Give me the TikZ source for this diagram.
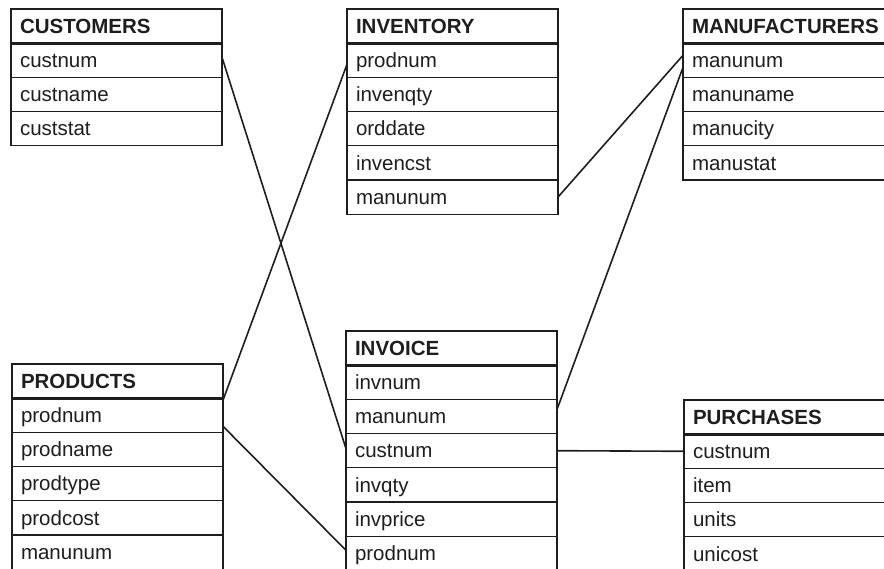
\documentclass[tikz,border=0pt]{standalone}
\usepackage{fontspec}
\setmainfont{Liberation Sans}
\usetikzlibrary{positioning,calc}
\definecolor{ink}{HTML}{1E1E1E}

\begin{document}
\begin{tikzpicture}[x=1pt,y=-1pt,
    field/.style={draw=ink,line width=1.3pt,outer sep=0pt,minimum width=211pt,minimum height=34.2pt,
      text width=193pt,inner xsep=9pt,inner ysep=0pt,align=left,
      text height=14.5pt,text depth=0pt,font=\fontsize{20.5}{24}\selectfont,text=ink},
    header/.style={field,anchor=north west,font=\fontsize{20.5}{24}\selectfont\bfseries},
    headline/.style={draw=ink,line width=3pt},
    link/.style={draw=ink,line width=1.6pt}]
    \clip (0,0) rectangle (884,569);
    %CUSTOMERS
    \node[header] (cust0) at (11,9) {CUSTOMERS};
    \node[field,below=0pt of cust0] (cust1) {custnum};
    \node[field,below=0pt of cust1] (cust2) {custname};
    \node[field,below=0pt of cust2] (cust3) {custstat};
    \draw[headline] (cust0.south west) -- (cust0.south east);
    %INVENTORY
    \node[header] (invt0) at (347,9) {INVENTORY};
    \node[field,below=0pt of invt0] (invt1) {prodnum};
    \node[field,below=0pt of invt1] (invt2) {invenqty};
    \node[field,below=0pt of invt2] (invt3) {orddate};
    \node[field,below=0pt of invt3] (invt4) {invencst};
    \node[field,below=0pt of invt4] (invt5) {manunum};
    \draw[headline] (invt0.south west) -- (invt0.south east);
    %MANUFACTURERS
    \node[header] (manu0) at (683,9) {MANUFACTURERS};
    \node[field,below=0pt of manu0] (manu1) {manunum};
    \node[field,below=0pt of manu1] (manu2) {manuname};
    \node[field,below=0pt of manu2] (manu3) {manucity};
    \node[field,below=0pt of manu3] (manu4) {manustat};
    \draw[headline] (manu0.south west) -- (manu0.south east);
    %PRODUCTS
    \node[header] (prod0) at (12,364) {PRODUCTS};
    \node[field,below=0pt of prod0] (prod1) {prodnum};
    \node[field,below=0pt of prod1] (prod2) {prodname};
    \node[field,below=0pt of prod2] (prod3) {prodtype};
    \node[field,below=0pt of prod3] (prod4) {prodcost};
    \node[field,below=0pt of prod4] (prod5) {manunum};
    \draw[headline] (prod0.south west) -- (prod0.south east);
    %INVOICE
    \node[header] (invc0) at (346,331) {INVOICE};
    \node[field,below=0pt of invc0] (invc1) {invnum};
    \node[field,below=0pt of invc1] (invc2) {manunum};
    \node[field,below=0pt of invc2] (invc3) {custnum};
    \node[field,below=0pt of invc3] (invc4) {invqty};
    \node[field,below=0pt of invc4] (invc5) {invprice};
    \node[field,below=0pt of invc5] (invc6) {prodnum};
    \draw[headline] (invc0.south west) -- (invc0.south east);
    %PURCHASES
    \node[header] (purc0) at (684,400) {PURCHASES};
    \node[field,below=0pt of purc0] (purc1) {custnum};
    \node[field,below=0pt of purc1] (purc2) {item};
    \node[field,below=0pt of purc2] (purc3) {units};
    \node[field,below=0pt of purc3] (purc4) {unicost};
    \draw[headline] (purc0.south west) -- (purc0.south east);
    %links
    \draw[link] ($(cust1.east)+(0,-3)$) -- ($(invc3.west)+(0,-2)$);
    \draw[link] ($(prod1.north east)+(0,2)$) -- ($(invt1.west)+(0,4)$);
    \draw[link] ($(prod1.east)+(0,11)$) -- ($(invc6.west)+(0,-3)$);
    \draw[link] (invt5.east) -- ($(manu1.west)+(0,-5)$);
    \draw[link] ($(invc2.east)+(0,-7)$) -- ($(manu1.west)+(0,7)$);
    \draw[link] (invc3.east) -- (purc1.west);
\end{tikzpicture}
\end{document}
